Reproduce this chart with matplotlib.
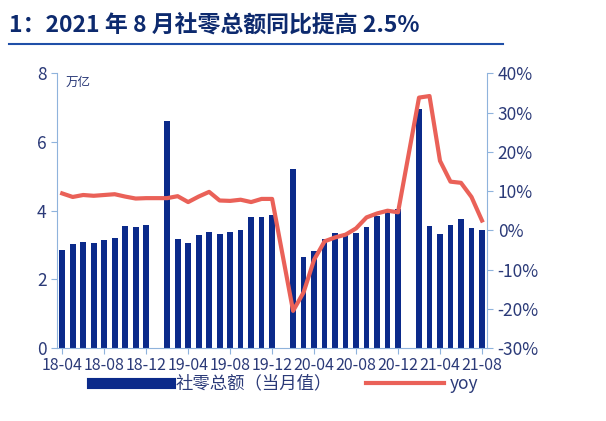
import numpy as np
import matplotlib.pyplot as plt
from matplotlib.lines import Line2D

plt.rcParams['font.family'] = ['Noto Sans CJK SC', 'DejaVu Sans']

nan = np.nan
months = ([f"18-{m:02d}" for m in range(4, 13)] + [f"19-{m:02d}" for m in range(1, 13)]
          + [f"20-{m:02d}" for m in range(1, 13)] + [f"21-{m:02d}" for m in range(1, 9)])
retail = [2.85, 3.03, 3.08, 3.07, 3.14, 3.21, 3.55, 3.53, 3.59,
          nan, 6.62, 3.17, 3.06, 3.30, 3.39, 3.31, 3.39, 3.45, 3.82, 3.81, 3.88,
          nan, 5.21, 2.64, 2.82, 3.17, 3.35, 3.32, 3.36, 3.53, 3.86, 3.95, 4.06,
          nan, 6.97, 3.55, 3.32, 3.59, 3.76, 3.49, 3.44]
yoy = [9.4, 8.5, 9.0, 8.8, 9.0, 9.2, 8.6, 8.1, 8.2,
       nan, 8.2, 8.7, 7.2, 8.6, 9.8, 7.6, 7.5, 7.8, 7.2, 8.0, 8.0,
       nan, -20.5, -15.8, -7.5, -2.8, -1.8, -1.1, 0.5, 3.3, 4.3, 5.0, 4.6,
       nan, 33.8, 34.2, 17.7, 12.4, 12.1, 8.5, 2.5]

navy = '#0b2a8a'
red = '#ea6158'
txt = '#2b3a78'
spine = '#8fb3dc'

fig = plt.figure(figsize=(6.06, 4.21), dpi=100)
ax = fig.add_axes([0.094, 0.173, 0.71, 0.653])
x = np.arange(len(months))
ax.bar(x, retail, width=0.55, color=navy)
ax.set_ylim(0, 8)
ax.set_xlim(-0.5, len(months) - 0.5)
ax.set_yticks([0, 2, 4, 6, 8])
ax.set_xticks(x[::4])
ax.set_xticklabels(months[::4])
ax.text(0.02, 0.99, '万亿', transform=ax.transAxes, fontsize=9, color=txt, va='top')

ax2 = ax.twinx()
y = np.array(yoy)
m = ~np.isnan(y)
ax2.plot(x[m], y[m], color=red, lw=3)
ax2.set_ylim(-30, 40)
ax2.set_yticks(range(-30, 41, 10))
ax2.set_yticklabels([f"{v}%" for v in range(-30, 41, 10)])

for a in (ax, ax2):
    for s in a.spines.values():
        s.set_visible(False)
    a.tick_params(colors=spine, labelcolor=txt, labelsize=12.5, length=4)
ax.spines['left'].set_visible(True)
ax.spines['left'].set_color(spine)
ax.spines['bottom'].set_visible(True)
ax.spines['bottom'].set_color(spine)
ax2.spines['right'].set_visible(True)
ax2.spines['right'].set_color(spine)
ax.tick_params(axis='x', labelsize=11.5, pad=2)

fig.text(0.015, 0.925, '1：2021 年 8 月社零总额同比提高 2.5%', fontsize=16.5,
         fontweight='bold', color='#0d2a6e')
fig.add_artist(Line2D([0.015, 0.83], [0.895, 0.895], color='#1f4fa8', lw=1.5))

handles = [Line2D([0], [0], color=navy, lw=8), Line2D([0], [0], color=red, lw=3)]
fig.legend(handles, ['社零总额（当月值）', 'yoy'], loc='lower center',
           bbox_to_anchor=(0.47, 0.03), ncol=2, frameon=False, fontsize=12.5,
           labelcolor=txt, handlelength=4.5, handletextpad=0.3, columnspacing=2.0)

fig.savefig('out.png', dpi=100)
